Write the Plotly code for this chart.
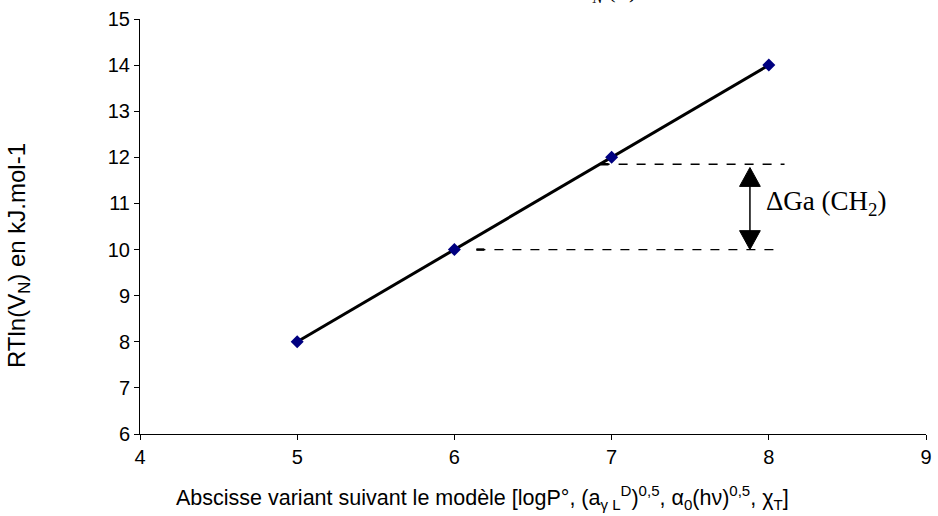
import plotly.graph_objects as go

x_vals = [5, 6, 7, 8]
y_vals = [8, 10, 12, 14]
x_ticks = [4, 5, 6, 7, 8, 9]
y_ticks = [6, 7, 8, 9, 10, 11, 12, 13, 14, 15]

upper_level = 11.85
lower_level = 10.0
upper_dash_x = [6.93, 8.10]
lower_dash_x = [6.14, 8.05]
arrow_x = 7.88
arrow_top = 11.78
arrow_bottom = 10.0

fig = go.Figure()
fig.add_trace(go.Scatter(
    x=x_vals, y=y_vals, mode="lines+markers",
    line=dict(color="black", width=3),
    marker=dict(symbol="diamond", size=10, color="#000080"),
    showlegend=False, hoverinfo="skip"))

shapes = []
shapes.append(dict(type="line", xref="x", yref="y", x0=upper_dash_x[0], x1=upper_dash_x[1],
                   y0=upper_level, y1=upper_level, line=dict(color="black", width=1.3, dash="dash")))
shapes.append(dict(type="line", xref="x", yref="y", x0=lower_dash_x[0], x1=lower_dash_x[1],
                   y0=lower_level, y1=lower_level, line=dict(color="black", width=1.3, dash="dash")))
seg = 0.05
shapes.append(dict(type="line", xref="x", yref="y", x0=upper_dash_x[0], x1=upper_dash_x[0] + seg,
                   y0=upper_level, y1=upper_level, line=dict(color="black", width=2.5)))
shapes.append(dict(type="line", xref="x", yref="y", x0=lower_dash_x[0], x1=lower_dash_x[0] + seg,
                   y0=lower_level, y1=lower_level, line=dict(color="black", width=2.5)))
hw = 0.066
hh = 0.41
shapes.append(dict(type="line", xref="x", yref="y", x0=arrow_x, x1=arrow_x,
                   y0=arrow_bottom + hh * 0.5, y1=arrow_top - hh * 0.5, line=dict(color="black", width=1.5)))
shapes.append(dict(type="path", xref="x", yref="y",
                   path=f"M {arrow_x} {arrow_top} L {arrow_x-hw} {arrow_top-hh} L {arrow_x+hw} {arrow_top-hh} Z",
                   fillcolor="black", line=dict(color="black", width=1)))
shapes.append(dict(type="path", xref="x", yref="y",
                   path=f"M {arrow_x} {arrow_bottom} L {arrow_x-hw} {arrow_bottom+hh} L {arrow_x+hw} {arrow_bottom+hh} Z",
                   fillcolor="black", line=dict(color="black", width=1)))

annotations = [
    dict(x=arrow_x + 0.09, y=(upper_level + lower_level) / 2 + 0.08, xref="x", yref="y",
         text="ΔGa (CH<sub>2</sub>)", showarrow=False, xanchor="left", yanchor="middle",
         font=dict(family="Liberation Serif, Times New Roman, serif", size=27, color="black")),
    dict(x=-0.1538, y=0.429, xref="paper", yref="paper", textangle=-90,
         text="RTln(V<sub>N</sub>) en kJ.mol-1", showarrow=False, xanchor="center", yanchor="middle",
         font=dict(size=24)),
    dict(x=0.436, y=-0.152, xref="paper", yref="paper",
         text="Abscisse variant suivant le modèle [logP°, (a<sub>γ L</sub><sup>D</sup>)<sup>0,5</sup>, α<sub>0</sub>(hν)<sup>0,5</sup>, χ<sub>T</sub>]",
         showarrow=False, xanchor="center", yanchor="middle", font=dict(size=21.5)),
    dict(x=0.556, y=1.027, xref="paper", yref="paper",
         text="<i>V</i><sub><i>N</i></sub> (T)", showarrow=False, xanchor="left", yanchor="bottom",
         font=dict(family="Liberation Serif, Times New Roman, serif", size=22)),
]

fig.update_layout(
    width=938, height=516,
    margin=dict(l=140, r=6, t=19, b=82),
    paper_bgcolor="white", plot_bgcolor="white",
    font=dict(family="Liberation Sans, Arial, sans-serif", size=20, color="black"),
    shapes=shapes, annotations=annotations,
    xaxis=dict(range=[4, 9], tickvals=x_ticks, showgrid=False, zeroline=False,
               showline=True, linecolor="black", linewidth=1, ticks="outside", ticklen=5,
               tickcolor="black", tickfont=dict(size=20), ticklabeloverflow="allow"),
    yaxis=dict(range=[6, 15], tickvals=y_ticks, showgrid=False, zeroline=False,
               showline=True, linecolor="black", linewidth=1, ticks="outside", ticklen=5,
               tickcolor="black", tickfont=dict(size=20)),
)

fig.write_html("out.html")
